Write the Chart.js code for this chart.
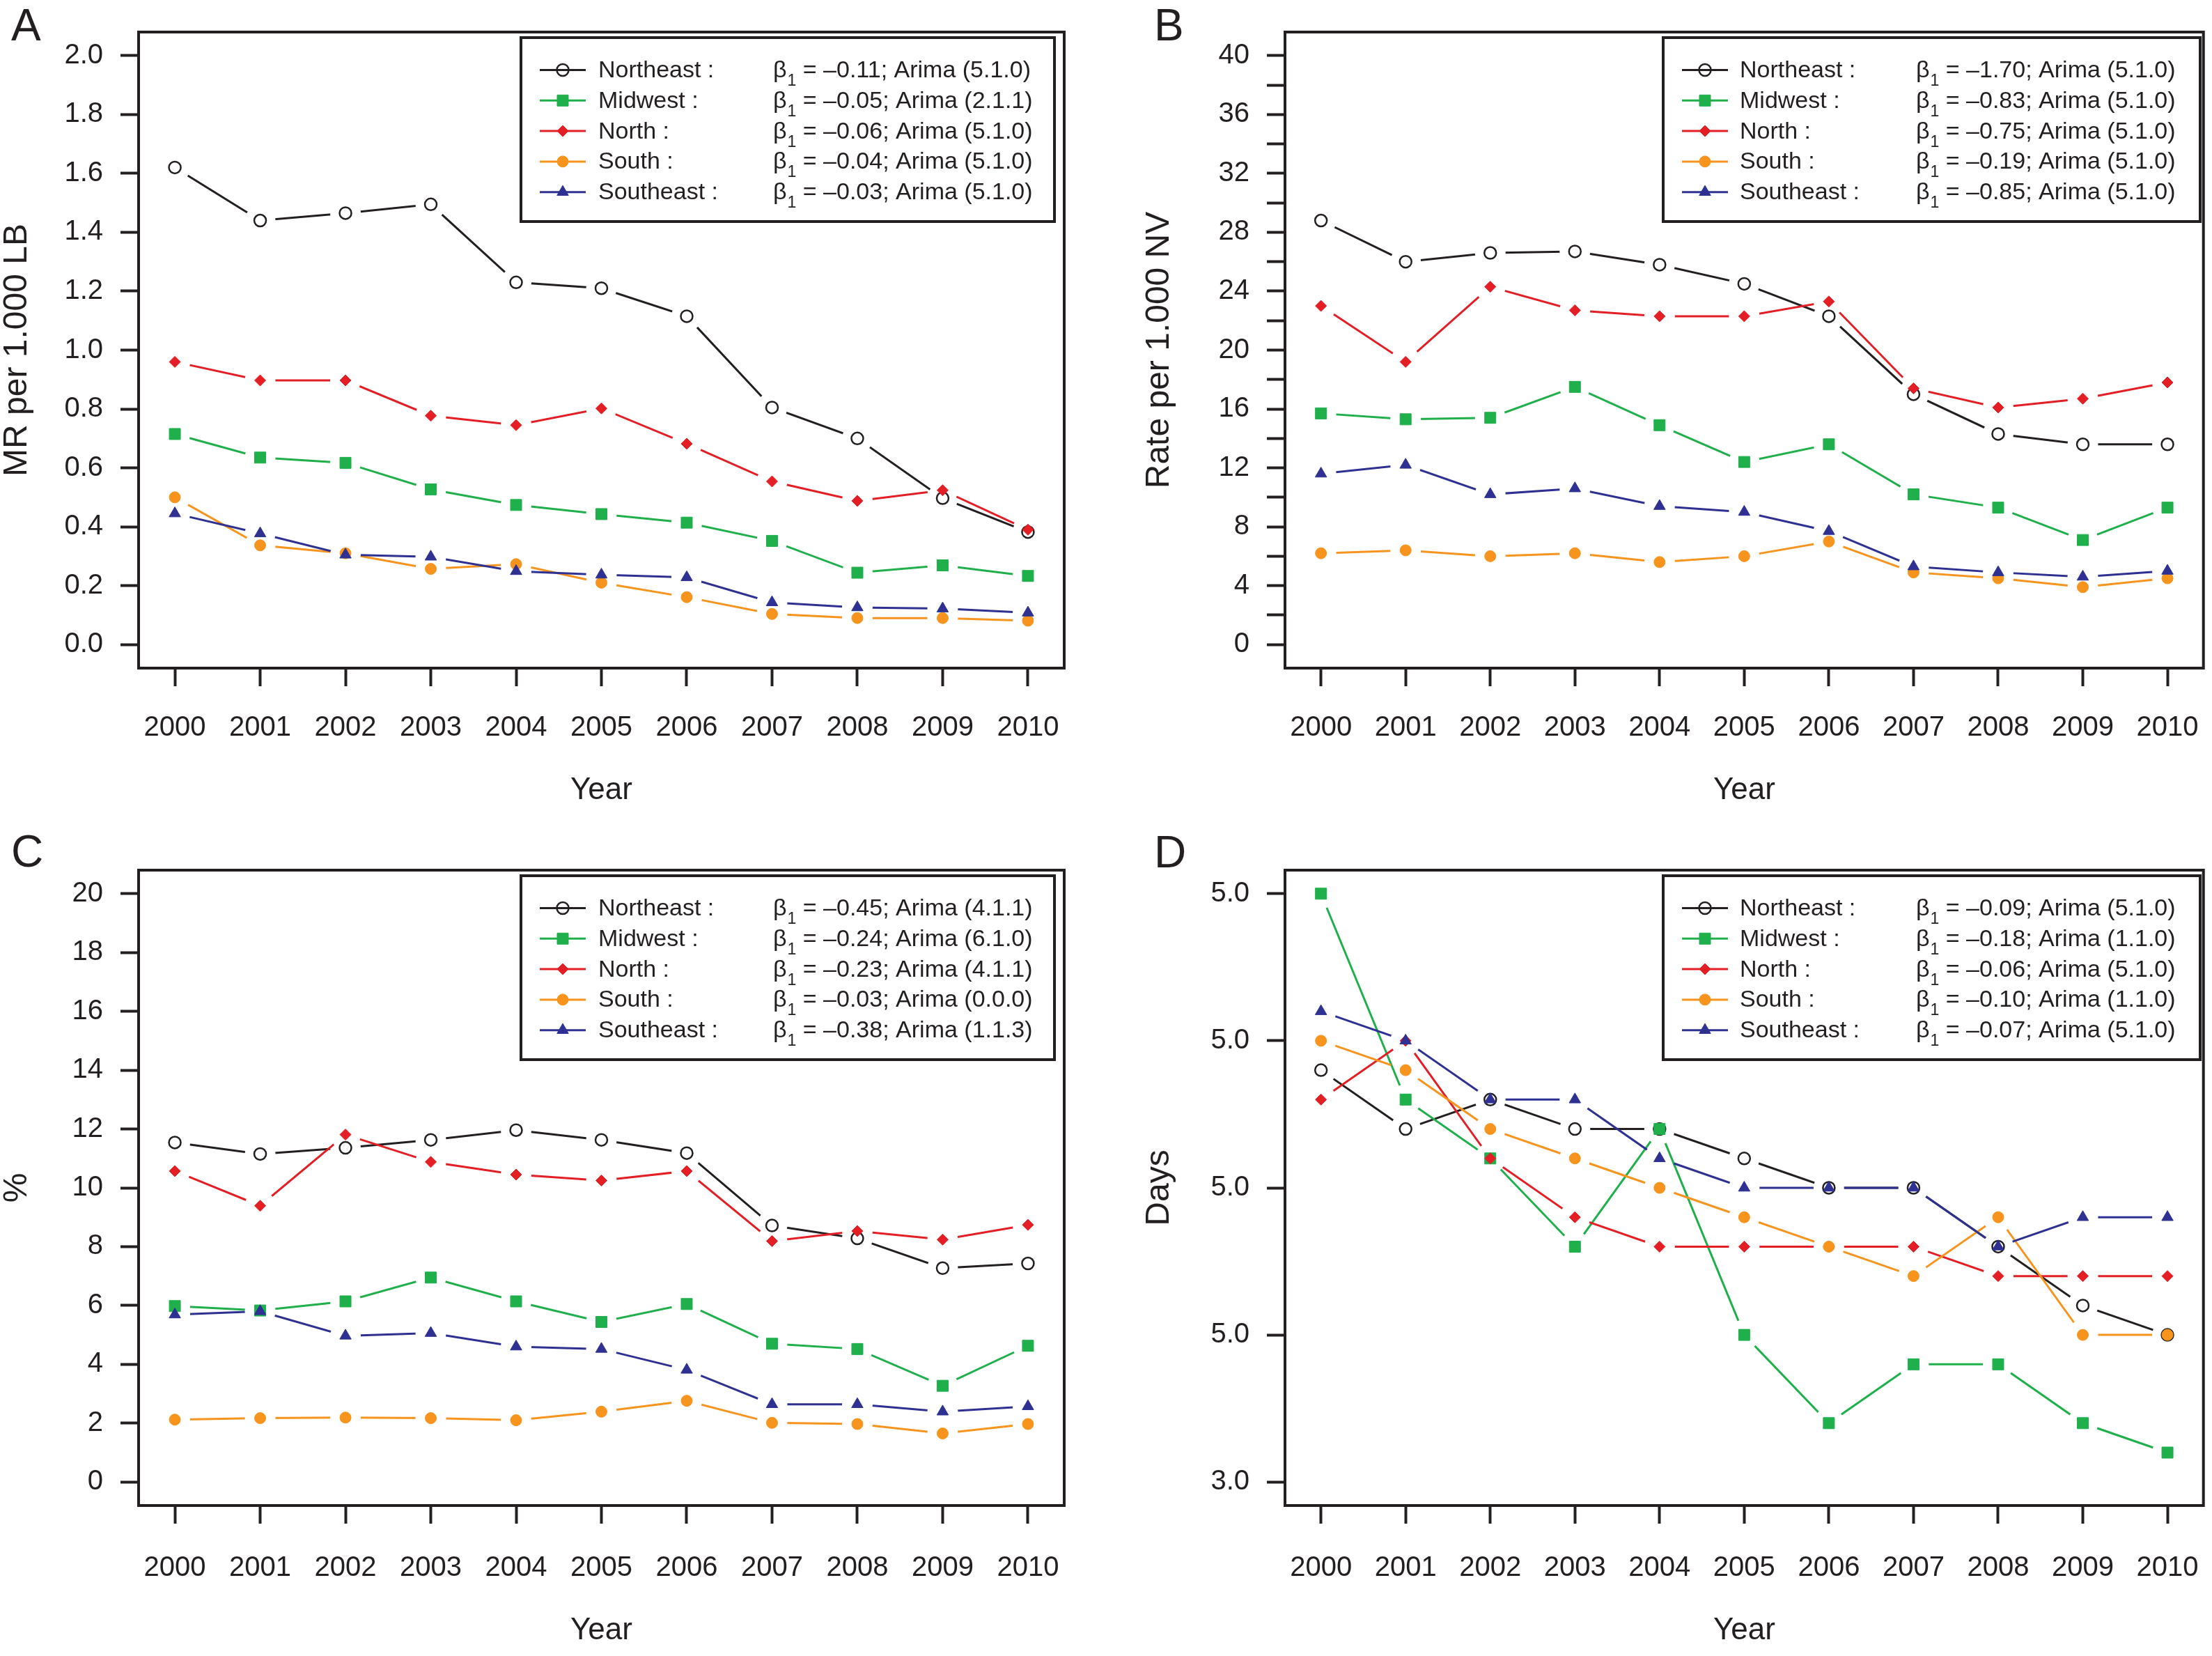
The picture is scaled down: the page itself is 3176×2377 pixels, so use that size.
<!DOCTYPE html>
<html>
<head>
<meta charset="utf-8">
<script src="https://cdn.jsdelivr.net/npm/chart.js@4.4.1/dist/chart.umd.min.js"></script>
<style>
  html, body { margin: 0; padding: 0; background: #fff; }
  #wrap { position: relative; width: 3176px; height: 2377px; background: #fff; }
  .pnl { position: absolute; }
</style>
</head>
<body>
<div id="wrap">
  <div class="pnl" style="left:0;top:0"><canvas id="cA" width="1588" height="1188"></canvas></div>
  <div class="pnl" style="left:1588px;top:0"><canvas id="cB" width="1588" height="1188"></canvas></div>
  <div class="pnl" style="left:0;top:1188px"><canvas id="cC" width="1588" height="1189"></canvas></div>
  <div class="pnl" style="left:1588px;top:1188px"><canvas id="cD" width="1588" height="1189"></canvas></div>
</div>
<script>
// ---- data ----
const years = [2000, 2001, 2002, 2003, 2004, 2005, 2006, 2007, 2008, 2009, 2010];
const regions = ['Northeast', 'Midwest', 'North', 'South', 'Southeast'];

// A: MR per 1.000 LB
const mrNortheast = [1.62, 1.44, 1.465, 1.495, 1.23, 1.21, 1.115, 0.805, 0.70, 0.497, 0.382];
const mrMidwest   = [0.715, 0.635, 0.617, 0.527, 0.474, 0.443, 0.414, 0.352, 0.244, 0.269, 0.233];
const mrNorth     = [0.96, 0.897, 0.897, 0.777, 0.745, 0.802, 0.682, 0.554, 0.488, 0.524, 0.39];
const mrSouth     = [0.50, 0.337, 0.31, 0.257, 0.273, 0.21, 0.161, 0.104, 0.09, 0.09, 0.081];
const mrSoutheast = [0.445, 0.377, 0.305, 0.298, 0.249, 0.237, 0.228, 0.143, 0.126, 0.122, 0.108];

// B: Rate per 1.000 NV
const nvNortheast = [28.8, 26.0, 26.6, 26.7, 25.8, 24.5, 22.3, 17.0, 14.3, 13.6, 13.6];
const nvMidwest   = [15.7, 15.3, 15.4, 17.5, 14.9, 12.4, 13.6, 10.2, 9.3, 7.1, 9.3];
const nvNorth     = [23.0, 19.2, 24.3, 22.7, 22.3, 22.3, 23.3, 17.4, 16.1, 16.7, 17.8];
const nvSouth     = [6.2, 6.4, 6.0, 6.2, 5.6, 6.0, 7.0, 4.9, 4.5, 3.9, 4.5];
const nvSoutheast = [11.6, 12.2, 10.2, 10.6, 9.4, 9.0, 7.7, 5.3, 4.9, 4.6, 5.0];

// C: %
const pctNortheast = [11.54, 11.15, 11.36, 11.63, 11.96, 11.63, 11.18, 8.72, 8.28, 7.27, 7.43];
const pctMidwest   = [5.98, 5.83, 6.14, 6.95, 6.14, 5.44, 6.05, 4.70, 4.52, 3.27, 4.63];
const pctNorth     = [10.57, 9.39, 11.81, 10.88, 10.45, 10.25, 10.57, 8.19, 8.53, 8.24, 8.74];
const pctSouth     = [2.12, 2.17, 2.19, 2.17, 2.10, 2.39, 2.76, 2.01, 1.97, 1.65, 1.97];
const pctSoutheast = [5.69, 5.80, 4.97, 5.06, 4.60, 4.52, 3.81, 2.64, 2.64, 2.39, 2.57];

// D: Days
const dayNortheast = [5.8, 5.4, 5.6, 5.4, 5.4, 5.2, 5.0, 5.0, 4.6, 4.2, 4.0];
const dayMidwest   = [7.0, 5.6, 5.2, 4.6, 5.4, 4.0, 3.4, 3.8, 3.8, 3.4, 3.2];
const dayNorth     = [5.6, 6.0, 5.2, 4.8, 4.6, 4.6, 4.6, 4.6, 4.4, 4.4, 4.4];
const daySouth     = [6.0, 5.8, 5.4, 5.2, 5.0, 4.8, 4.6, 4.4, 4.8, 4.0, 4.0];
const daySoutheast = [6.2, 6.0, 5.6, 5.6, 5.2, 5.0, 5.0, 5.0, 4.6, 4.8, 4.8];

// y ticks
const yTicksA  = [0, 0.2, 0.4, 0.6, 0.8, 1.0, 1.2, 1.4, 1.6, 1.8, 2.0];
const yLabelsA = ['0.0', '0.2', '0.4', '0.6', '0.8', '1.0', '1.2', '1.4', '1.6', '1.8', '2.0'];
const yTicksB  = [0, 2, 4, 6, 8, 10, 12, 14, 16, 18, 20, 22, 24, 26, 28, 30, 32, 34, 36, 38, 40];
const yLabelsB = ['0', '', '4', '', '8', '', '12', '', '16', '', '20', '', '24', '', '28', '', '32', '', '36', '', '40'];
const yTicksC  = [0, 2, 4, 6, 8, 10, 12, 14, 16, 18, 20];
const yLabelsC = ['0', '2', '4', '6', '8', '10', '12', '14', '16', '18', '20'];
const yTicksD  = [3, 4, 5, 6, 7];
const yLabelsD = ['3.0', '5.0', '5.0', '5.0', '5.0'];

// legend texts
const betaA = ['–0.11', '–0.05', '–0.06', '–0.04', '–0.03'];
const arimaA = ['5.1.0', '2.1.1', '5.1.0', '5.1.0', '5.1.0'];
const betaB = ['–1.70', '–0.83', '–0.75', '–0.19', '–0.85'];
const arimaB = ['5.1.0', '5.1.0', '5.1.0', '5.1.0', '5.1.0'];
const betaC = ['–0.45', '–0.24', '–0.23', '–0.03', '–0.38'];
const arimaC = ['4.1.1', '6.1.0', '4.1.1', '0.0.0', '1.1.3'];
const betaD = ['–0.09', '–0.18', '–0.06', '–0.10', '–0.07'];
const arimaD = ['5.1.0', '1.1.0', '5.1.0', '1.1.0', '5.1.0'];

// ---- styles ----
const FONT = "'Liberation Sans', Arial, Helvetica, sans-serif";
const INK = '#231f20';
const GAP = 22;
const seriesStyle = [
  { color: INK,       pointStyle: 'circle',   radius: 8.5,  fill: false },
  { color: '#1fb04b', pointStyle: 'rect',     radius: 11.3, fill: true },
  { color: '#e31e24', pointStyle: 'rectRot',  radius: 8,    fill: true },
  { color: '#f7941d', pointStyle: 'circle',   radius: 8,    fill: true },
  { color: '#2e3192', pointStyle: 'triangle', radius: 9.5,  fill: true }
];

// small marker painter for the legend
function paintMarker(ctx, st, x, y) {
  const r = st.radius;
  ctx.beginPath();
  if (st.pointStyle === 'circle') {
    ctx.arc(x, y, r, 0, Math.PI * 2);
  } else if (st.pointStyle === 'rect') {
    const s = r * Math.SQRT1_2;
    ctx.rect(x - s, y - s, 2 * s, 2 * s);
  } else if (st.pointStyle === 'rectRot') {
    ctx.moveTo(x - r, y); ctx.lineTo(x, y - r); ctx.lineTo(x + r, y); ctx.lineTo(x, y + r);
    ctx.closePath();
  } else {
    const a = Math.PI * 2 / 3;
    ctx.moveTo(x, y - r);
    ctx.lineTo(x + Math.sin(a) * r, y - Math.cos(a) * r);
    ctx.lineTo(x + Math.sin(2 * a) * r, y - Math.cos(2 * a) * r);
    ctx.closePath();
  }
  if (st.fill) {
    ctx.fillStyle = st.color; ctx.fill();
    ctx.lineWidth = 1; ctx.strokeStyle = st.color; ctx.stroke();
  } else {
    ctx.lineWidth = 2.5; ctx.strokeStyle = st.color; ctx.stroke();
  }
}

// cut the line around its own points (R type "b")
const gapPlugin = {
  id: 'gapPlugin',
  beforeDatasetDraw(chart, args) {
    const ds = chart.data.datasets[args.index];
    if (!ds.isLine) return;
    const ctx = chart.ctx;
    ctx.save();
    ctx.beginPath();
    ctx.rect(0, 0, chart.width, chart.height);
    args.meta.data.forEach(pt => {
      ctx.moveTo(pt.x + GAP, pt.y);
      ctx.arc(pt.x, pt.y, GAP, 0, Math.PI * 2);
    });
    ctx.clip('evenodd');
  },
  afterDatasetDraw(chart, args) {
    if (chart.data.datasets[args.index].isLine) chart.ctx.restore();
  }
};

// frame, panel letter and legend box
const framePlugin = {
  id: 'frame',
  afterDraw(chart, args, opts) {
    const ctx = chart.ctx, ca = chart.chartArea;
    ctx.save();
    ctx.strokeStyle = INK;
    ctx.lineWidth = 4;
    ctx.strokeRect(ca.left, ca.top, ca.right - ca.left, ca.bottom - ca.top);

    ctx.fillStyle = INK;
    ctx.font = '64px ' + FONT;
    ctx.textAlign = 'left';
    ctx.textBaseline = 'alphabetic';
    ctx.fillText(opts.letter, opts.letterX, opts.letterY);

    const L = ca.left + opts.legendDx, T = ca.top + 8;
    ctx.lineWidth = 4;
    ctx.strokeStyle = INK;
    ctx.strokeRect(L, T, opts.legendW, 264);

    regions.forEach((name, i) => {
      const y = T + 46.5 + i * 43.8;
      const st = seriesStyle[i];
      ctx.strokeStyle = st.color;
      ctx.lineWidth = 3;
      ctx.beginPath(); ctx.moveTo(L + 27, y); ctx.lineTo(L + 93, y); ctx.stroke();
      paintMarker(ctx, st, L + 60, y);

      const base = y + 10.5;
      ctx.fillStyle = INK;
      ctx.font = '34px ' + FONT;
      ctx.fillText(name + ' :', L + opts.nameDx, base);
      let x = L + opts.betaDx;
      ctx.fillText('β', x, base);
      x += ctx.measureText('β').width + 1;
      ctx.font = '23px ' + FONT;
      ctx.fillText('1', x, base + 12);
      x += ctx.measureText('1').width;
      ctx.font = '34px ' + FONT;
      ctx.fillText(' = ' + opts.beta[i] + '; Arima (' + opts.arima[i] + ')', x, base);
    });
    ctx.restore();
  }
};

function buildDatasets(seriesVals) {
  const out = [];
  seriesVals.forEach((vals, i) => {
    const st = seriesStyle[i];
    out.push({
      label: regions[i],
      data: years.map((yr, k) => ({ x: yr, y: vals[k] })),
      isLine: true,
      borderColor: st.color,
      borderWidth: 3,
      pointRadius: 0,
      pointHoverRadius: 0,
      tension: 0,
      fill: false,
      order: 10 - 2 * i
    });
    out.push({
      label: regions[i],
      data: years.map((yr, k) => ({ x: yr, y: vals[k] })),
      showLine: false,
      pointStyle: st.pointStyle,
      pointRadius: st.radius,
      pointHoverRadius: st.radius,
      pointBackgroundColor: st.fill ? st.color : 'rgba(0,0,0,0)',
      pointBorderColor: st.color,
      pointBorderWidth: st.fill ? 1 : 2.5,
      order: 9 - 2 * i
    });
  });
  return out;
}

function makeChart(id, p) {
  const cv = document.getElementById(id);
  const W = cv.width, H = cv.height;
  return new Chart(cv, {
    type: 'line',
    data: { datasets: buildDatasets(p.series) },
    plugins: [gapPlugin, framePlugin],
    options: {
      responsive: false,
      animation: false,
      devicePixelRatio: 1,
      events: [],
      layout: { padding: { left: 0, top: p.top, right: W - p.right, bottom: 0 } },
      plugins: {
        legend: { display: false },
        tooltip: { enabled: false },
        frame: {
          letter: p.letter, letterX: p.letterX, letterY: p.letterY,
          legendDx: p.legendDx, legendW: p.legendW, nameDx: p.nameDx, betaDx: p.betaDx,
          beta: p.beta, arima: p.arima
        }
      },
      scales: {
        x: {
          type: 'linear',
          min: 1999.575,
          max: 2010.425,
          afterBuildTicks: s => { s.ticks = years.map(v => ({ value: v })); },
          afterFit: s => { s.height = H - p.bottom; s.paddingLeft = 0; s.paddingRight = 0; },
          grid: { drawOnChartArea: false, drawTicks: true, tickLength: 26, tickWidth: 4, tickColor: INK },
          border: { display: false },
          ticks: {
            font: { family: FONT, size: 40 }, color: INK, padding: p.tickPad,
            maxRotation: 0, autoSkip: false, callback: v => String(v)
          },
          title: {
            display: true, text: 'Year', color: INK,
            font: { family: FONT, size: 44, lineHeight: 1 },
            padding: { top: 0, bottom: p.yearPad }
          }
        },
        y: {
          type: 'linear',
          min: p.yMin,
          max: p.yMax,
          afterBuildTicks: s => { s.ticks = p.yTicks.map(v => ({ value: v })); },
          afterFit: s => { s.width = p.left; s.paddingTop = 0; s.paddingBottom = 0; },
          grid: { drawOnChartArea: false, drawTicks: true, tickLength: 26, tickWidth: 4, tickColor: INK },
          border: { display: false },
          ticks: {
            font: { family: FONT, size: 40 }, color: INK, padding: 25,
            autoSkip: false, callback: (v, i) => p.yLabels[i]
          },
          title: {
            display: true, text: p.yTitle, color: INK,
            font: { family: FONT, size: 48, lineHeight: 1 },
            padding: { top: p.yTitlePad, bottom: 0 }
          }
        }
      }
    }
  });
}

makeChart('cA', {
  series: [mrNortheast, mrMidwest, mrNorth, mrSouth, mrSoutheast],
  left: 199, top: 46, right: 1528, bottom: 959,
  yMin: -0.08, yMax: 2.08, yTicks: yTicksA, yLabels: yLabelsA,
  yTitle: 'MR per 1.000 LB', yTitlePad: 1, yearPad: 31, tickPad: 36,
  letter: 'A', letterX: 16, letterY: 58,
  legendDx: 549, legendW: 766, nameDx: 111, betaDx: 362, beta: betaA, arima: arimaA
});
makeChart('cB', {
  series: [nvNortheast, nvMidwest, nvNorth, nvSouth, nvSoutheast],
  left: 257, top: 46, right: 1586, bottom: 959,
  yMin: -1.6, yMax: 41.6, yTicks: yTicksB, yLabels: yLabelsB,
  yTitle: 'Rate per 1.000 NV', yTitlePad: 53, yearPad: 31, tickPad: 36,
  letter: 'B', letterX: 69, letterY: 58,
  legendDx: 543, legendW: 771, nameDx: 110, betaDx: 363, beta: betaB, arima: arimaB
});
makeChart('cC', {
  series: [pctNortheast, pctMidwest, pctNorth, pctSouth, pctSoutheast],
  left: 199, top: 61, right: 1528, bottom: 973,
  yMin: -0.8, yMax: 20.8, yTicks: yTicksC, yLabels: yLabelsC,
  yTitle: '%', yTitlePad: 1, yearPad: 14, tickPad: 40,
  letter: 'C', letterX: 16, letterY: 56,
  legendDx: 549, legendW: 766, nameDx: 111, betaDx: 362, beta: betaC, arima: arimaC
});
makeChart('cD', {
  series: [dayNortheast, dayMidwest, dayNorth, daySouth, daySoutheast],
  left: 257, top: 61, right: 1586, bottom: 973,
  yMin: 2.84, yMax: 7.16, yTicks: yTicksD, yLabels: yLabelsD,
  yTitle: 'Days', yTitlePad: 53, yearPad: 14, tickPad: 40,
  letter: 'D', letterX: 69, letterY: 57,
  legendDx: 543, legendW: 771, nameDx: 110, betaDx: 363, beta: betaD, arima: arimaD
});
</script>
</body>
</html>
